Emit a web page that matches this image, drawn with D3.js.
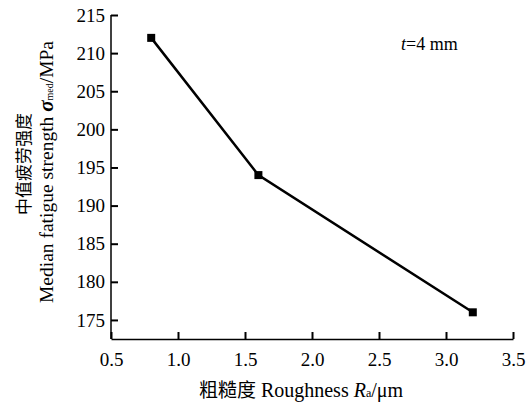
<!DOCTYPE html>
<html><head><meta charset="utf-8">
<script src="https://cdn.jsdelivr.net/npm/d3@7"></script>
<style>
body{margin:0;background:#fff;}
svg text{font-family:"Liberation Serif","Times New Roman",serif !important;fill:#000;}
svg text .cjk, svg text.cjk{font-family:"Noto Sans CJK SC",sans-serif !important;}
</style></head><body>
<svg id="c" width="532" height="405"></svg>
<script>
const roughness = [0.8, 1.6, 3.2];
const strength = [212, 194, 176];
const xTicks = [0.5, 1.0, 1.5, 2.0, 2.5, 3.0, 3.5];
const yTicks = [175, 180, 185, 190, 195, 200, 205, 210, 215];

const svg = d3.select("#c");
const x = d3.scaleLinear().domain([0.5, 3.5]).range([111, 513]);
const y = d3.scaleLinear().domain([172.5, 215]).range([339, 15]);

const xAxis = svg.append("g").attr("transform","translate(0,339)")
  .call(d3.axisBottom(x).tickValues(xTicks).tickFormat(d3.format(".1f")).tickSizeInner(-7).tickSizeOuter(0).tickPadding(14));
const yAxis = svg.append("g").attr("transform","translate(111,0)")
  .call(d3.axisLeft(y).tickValues(yTicks).tickSizeInner(-7).tickSizeOuter(0).tickPadding(6));
[xAxis,yAxis].forEach(a=>{
  a.attr("font-family",null).attr("font-size",null);
  a.selectAll("path").attr("stroke","#000").attr("stroke-width",1.5);
  a.selectAll("line").attr("stroke","#000").attr("stroke-width",2);
  a.selectAll("text").style("font-size","19px").attr("fill","#000");
});
yAxis.select("path").attr("d",`M0,${y(215)}V339`);

const pts = roughness.map((r,i)=>[r,strength[i]]);
svg.append("path").datum(pts)
  .attr("d", d3.line().x(d=>x(d[0])).y(d=>y(d[1])))
  .attr("fill","none").attr("stroke","#000").attr("stroke-width",2.5);
svg.selectAll("rect.m").data(pts).enter().append("rect")
  .attr("x",d=>x(d[0])-4).attr("y",d=>y(d[1])-4).attr("width",8).attr("height",8).attr("fill","#000");

const ann = svg.append("text").attr("x",401).attr("y",50).style("font-size","18px");
ann.append("tspan").style("font-style","italic").text("t");
ann.append("tspan").text("=4 mm");

const xt = svg.append("text").attr("x",301).attr("y",397).attr("text-anchor","middle").style("font-size","20px");
xt.append("tspan").attr("class","cjk").style("font-size","19px").text("粗糙度");
xt.append("tspan").text(" Roughness ");
xt.append("tspan").style("font-style","italic").text("R");
xt.append("tspan").style("font-size","12px").text("a");
xt.append("tspan").text("/μm");

svg.append("text").attr("class","cjk").attr("transform","translate(30,164) rotate(-90)")
  .attr("text-anchor","middle").style("font-size","17px").text("中值疲劳强度");
const yt = svg.append("text").attr("transform","translate(53,172) rotate(-90)")
  .attr("text-anchor","middle").style("font-size","19.5px");
yt.append("tspan").text("Median fatigue strength ");
yt.append("tspan").style("font-style","italic").style("font-weight","bold").style("font-size","21px").text("σ");
yt.append("tspan").style("font-size","10px").text("med");
yt.append("tspan").text("/MPa");
</script></body></html>
